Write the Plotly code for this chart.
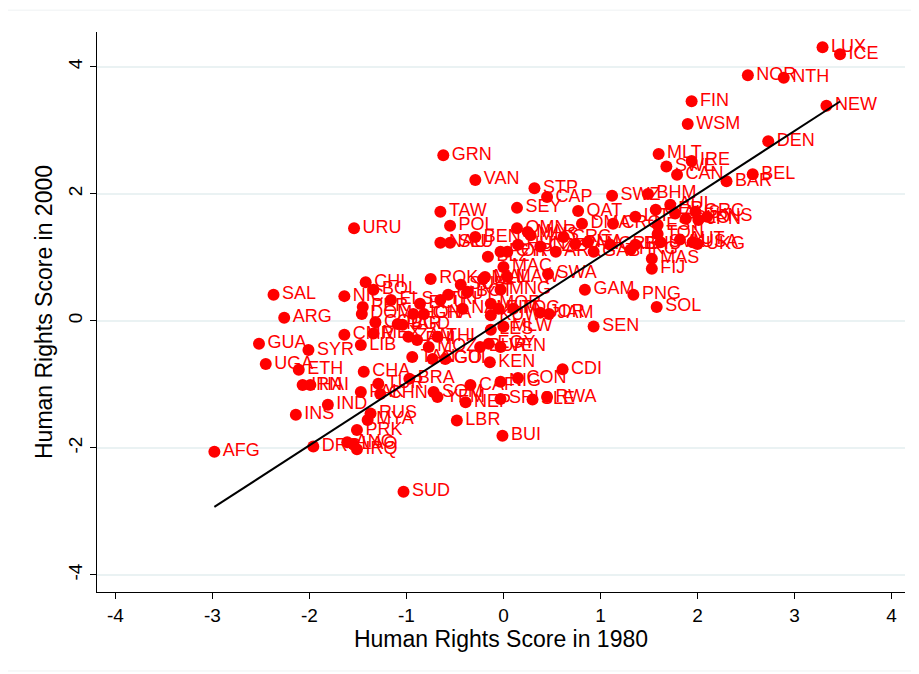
import plotly.graph_objects as go

# Country codes and human-rights scores (1980 on x, 2000 on y)
codes = [
    "LUX", "ICE", "NOR", "NTH", "FIN", "WSM", "NEW", "DEN", "BEL", "BAR",
    "MLT", "IRE", "SWE", "CAN", "SWZ", "BHM", "QAT", "DMA", "LIT", "GER",
    "AUL", "AUS", "GRC", "SLO", "JPN", "KNS", "EST", "TON", "USA", "UKG",
    "AUT", "SVK", "BHU", "HKG", "MAS", "FIJ", "CRO", "ITA", "PAN", "GRE",
    "GAB", "GAM", "PNG", "SOL", "ROK", "SWA", "JAM", "SEN", "CDI", "CON",
    "KEN", "EGY", "VEN", "ZIM", "RWA", "SLE", "SRI", "NEP", "SOM", "YEM",
    "CAF", "NIG", "LBR", "BUI", "SUD", "BRA", "CHN", "TUR", "PAK", "IND",
    "INS", "RUS", "MYA", "PRK", "ANG", "LAO", "IRQ", "DRC", "AFG", "CHA",
    "SAL", "NIC", "ARG", "GUA", "SYR", "UGA", "ETH", "IRN", "HAI", "CHI",
    "BOL", "PER", "DOM", "COL", "CMR", "LIB", "MEX", "PAR", "BGD", "ECU",
    "ZAM", "PHI", "THI", "HON", "GHA", "TRI", "GUY", "SUR", "BOT", "NAM",
    "MOR", "MLI", "MNG", "TOG", "KUW", "GUI", "LES", "MLW", "BUR", "MOZ",
    "TAN", "NAU", "SLU", "BEN", "CRC", "BLZ", "POR", "HUN", "OMN", "MAR",
    "MUS", "MAC", "MAW", "MAL", "CZE", "ARK", "CYP", "URU", "TAW", "POL",
    "GRN", "VAN", "STP", "CAP", "SEY", "CGO", "ELS", "JOR",
]
score_1980 = [
    3.29, 3.47, 2.52, 2.89, 1.94, 1.90, 3.33, 2.73, 2.57, 2.30,
    1.60, 1.94, 1.68, 1.79, 1.12, 1.49, 0.77, 0.81, 1.36, 1.57,
    1.72, 1.77, 1.98, 1.88, 2.01, 2.10, 1.59, 1.59, 1.95, 2.00,
    1.82, 1.62, 1.36, 1.31, 1.53, 1.53, 1.13, 0.87, 0.74, 1.10,
    0.93, 0.84, 1.34, 1.58, -0.75, 0.46, 0.47, 0.93, 0.61, 0.15,
    -0.14, -0.15, -0.03, -0.05, 0.45, 0.30, -0.03, -0.39, -0.72, -0.68,
    -0.34, -0.03, -0.48, -0.01, -1.03, -0.97, -1.27, -1.29, -1.47, -1.81,
    -2.14, -1.37, -1.40, -1.51, -1.61, -1.55, -1.51, -1.96, -2.98, -1.44,
    -2.37, -1.64, -2.26, -2.52, -2.01, -2.45, -2.11, -2.07, -1.99, -1.42,
    -1.34, -1.45, -1.46, -1.32, -1.64, -1.47, -1.34, -1.09, -1.04, -0.86,
    -0.98, -0.89, -0.68, -0.93, -0.82, -0.65, -0.57, -0.44, -0.37, -0.42,
    -0.13, -0.21, -0.03, 0.10, -0.13, -0.60, -0.13, 0.00, -0.24, -0.77,
    -0.94, -0.65, -0.55, -0.29, 0.62, -0.16, -0.03, 0.15, 0.14, 0.25,
    0.28, 0.00, 0.04, -0.19, 0.38, 0.54, 0.04, -1.54, -0.65, -0.55,
    -0.62, -0.29, 0.32, 0.45, 0.14, -0.73, -1.16, 0.38,
]
score_2000 = [
    4.31, 4.20, 3.87, 3.83, 3.46, 3.10, 3.39, 2.83, 2.31, 2.20,
    2.63, 2.52, 2.43, 2.30, 1.97, 2.00, 1.73, 1.53, 1.64, 1.75,
    1.83, 1.69, 1.72, 1.61, 1.59, 1.64, 1.51, 1.37, 1.24, 1.21,
    1.28, 1.24, 1.20, 1.12, 0.98, 0.82, 1.53, 1.24, 1.21, 1.20,
    1.09, 0.49, 0.41, 0.22, 0.66, 0.74, 0.11, -0.09, -0.76, -0.90,
    -0.65, -0.36, -0.41, 0.19, -1.20, -1.24, -1.23, -1.28, -1.12, -1.20,
    -1.01, -0.96, -1.57, -1.81, -2.69, -0.91, -1.15, -0.99, -1.12, -1.32,
    -1.48, -1.46, -1.56, -1.72, -1.91, -1.94, -2.02, -1.98, -2.06, -0.80,
    0.41, 0.39, 0.05, -0.36, -0.46, -0.68, -0.77, -1.01, -1.01, 0.61,
    0.49, 0.22, 0.11, -0.02, -0.22, -0.38, -0.20, -0.05, -0.06, 0.27,
    -0.25, -0.30, -0.25, 0.11, 0.11, 0.33, 0.41, 0.57, 0.46, 0.19,
    0.27, 0.66, 0.49, 0.19, 0.09, -0.60, -0.14, -0.09, -0.41, -0.41,
    -0.57, 1.23, 1.23, 1.32, 1.32, 1.01, 1.09, 1.20, 1.46, 1.40,
    1.35, 0.85, 0.69, 0.69, 1.17, 1.09, 1.09, 1.46, 1.72, 1.50,
    2.61, 2.22, 2.09, 1.95, 1.78, -0.60, 0.33, 0.13,
]

# Fitted regression line coefficients
fit_slope = 0.99
fit_intercept = 0.02

x_ticks = [-4, -3, -2, -1, 0, 1, 2, 3, 4]
y_ticks = [-4, -2, 0, 2, 4]

FONT = "Liberation Sans, Arial, Helvetica, sans-serif"

fig = go.Figure()

fig.add_trace(go.Scatter(
    x=score_1980, y=score_2000, text=codes,
    mode="markers+text", textposition="middle right",
    marker=dict(color="#ff0000", size=12, line=dict(width=0)),
    textfont=dict(color="#ff0000", size=18, family=FONT),
    cliponaxis=False, showlegend=False, hoverinfo="text",
))

x_min, x_max = min(score_1980), max(score_1980)
fig.add_trace(go.Scatter(
    x=[x_min, x_max],
    y=[fit_intercept + fit_slope * x_min, fit_intercept + fit_slope * x_max],
    mode="lines", line=dict(color="black", width=2),
    showlegend=False, hoverinfo="skip",
))

fig.update_layout(
    width=919, height=674,
    margin=dict(l=89, r=22, t=24, b=90),
    paper_bgcolor="white", plot_bgcolor="white",
    font=dict(family=FONT, color="black"),
    xaxis=dict(
        range=[-4.19, 4.14], tickvals=x_ticks, ticktext=[str(v) for v in x_ticks],
        showgrid=False, zeroline=False, showline=True, linecolor="black", linewidth=1,
        ticks="outside", ticklen=6, tickcolor="black", tickfont=dict(size=19),
        automargin=False,
        title=dict(text="Human Rights Score in 1980", font=dict(size=23), standoff=2),
    ),
    yaxis=dict(
        range=[-4.27, 4.55], tickvals=y_ticks, ticktext=[str(v) for v in y_ticks],
        showgrid=True, gridcolor="#eaf2f3", gridwidth=2, zeroline=False,
        showline=True, linecolor="black", linewidth=1, tickangle=-90,
        ticks="outside", ticklen=6, tickcolor="black", tickfont=dict(size=19),
        automargin=False,
        title=dict(text="Human Rights Score in 2000", font=dict(size=23), standoff=6),
    ),
    shapes=[dict(
        type="rect", xref="paper", yref="paper",
        x0=-0.114, x1=1.011, y0=-0.141, y1=1.039,
        line=dict(color="#eef2f3", width=1), fillcolor="rgba(0,0,0,0)", layer="below",
    )],
)

fig.write_html("out.html")
